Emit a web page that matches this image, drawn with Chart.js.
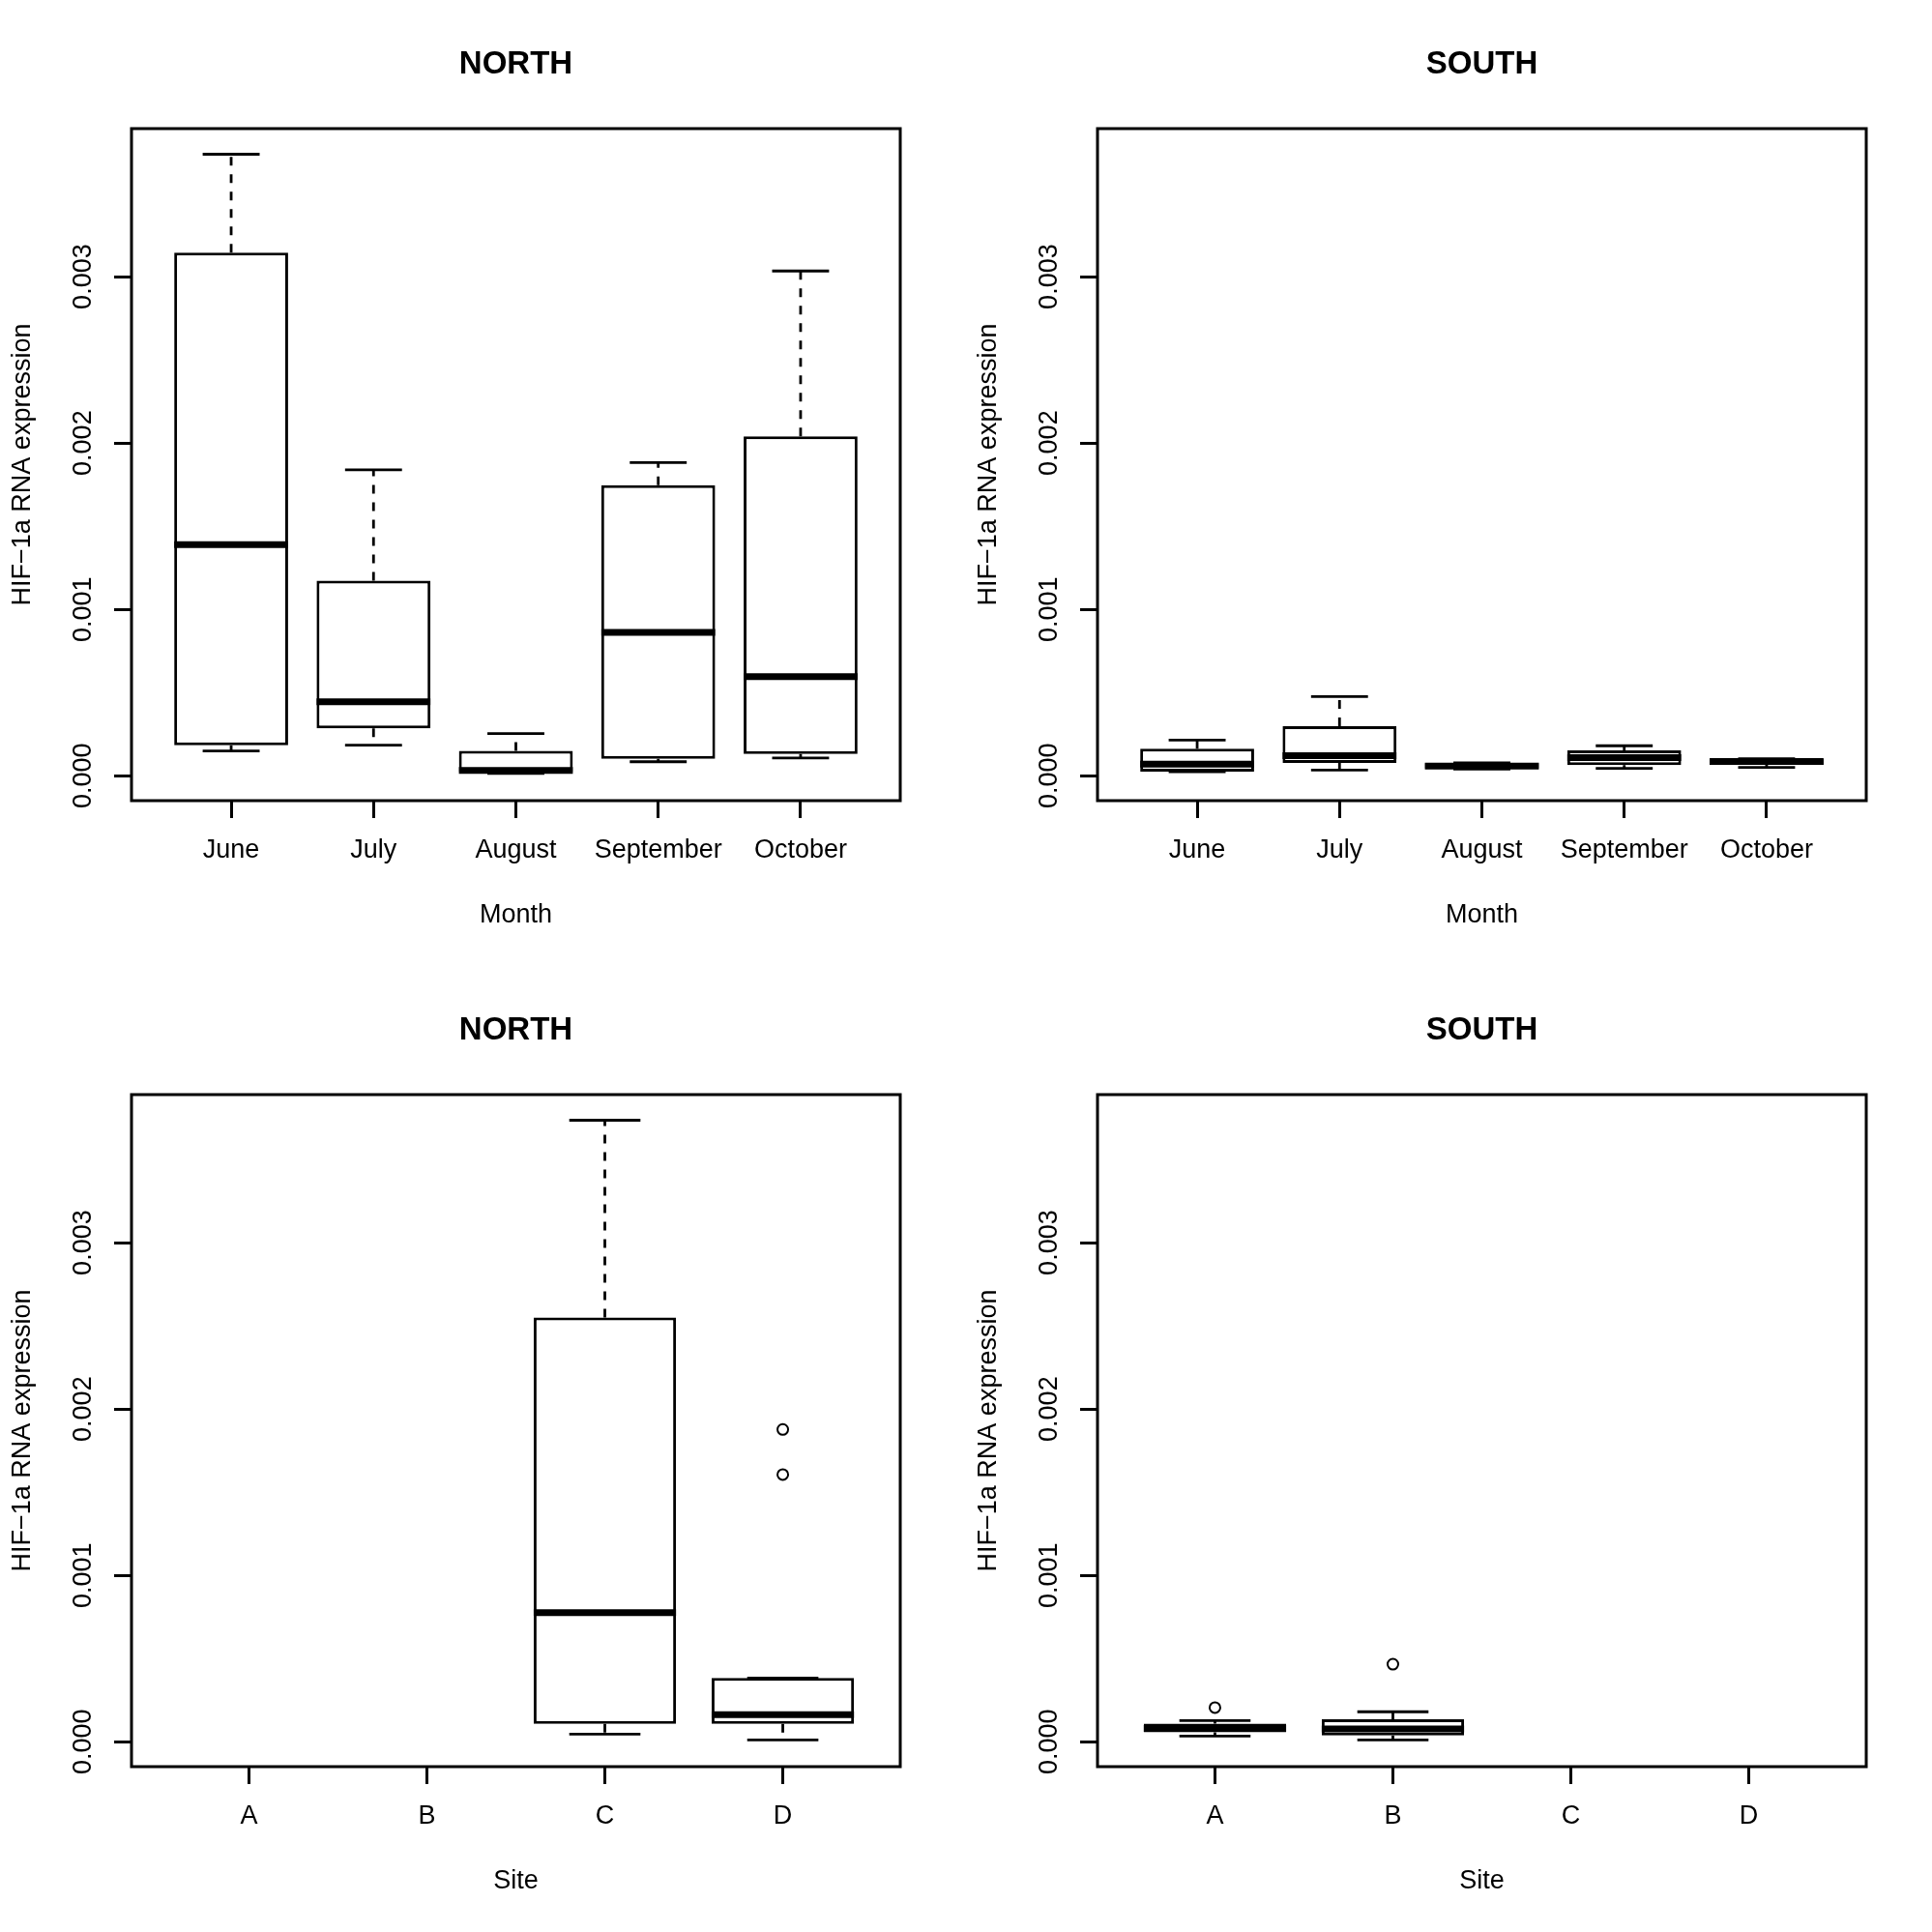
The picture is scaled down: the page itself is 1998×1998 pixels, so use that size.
<!DOCTYPE html>
<html>
<head>
<meta charset="utf-8">
<script src="https://cdn.jsdelivr.net/npm/chart.js@4.4.0/dist/chart.umd.min.js"></script>
<style>
    body { margin: 0; background: #ffffff; }
    #grid { position: relative; width: 1998px; height: 1998px; background: #ffffff; }
    .panel { position: absolute; width: 999px; height: 999px; }
</style>
</head>
<body>
<div id="grid">
    <div class="panel" style="left:0px;top:0px"><canvas id="northMonth" width="999" height="999"></canvas></div>
    <div class="panel" style="left:999px;top:0px"><canvas id="southMonth" width="999" height="999"></canvas></div>
    <div class="panel" style="left:0px;top:999px"><canvas id="northSite" width="999" height="999"></canvas></div>
    <div class="panel" style="left:999px;top:999px"><canvas id="southSite" width="999" height="999"></canvas></div>
</div>
<script>
// Categories and tick labels.
var months = ["June", "July", "August", "September", "October"];
var sites = ["A", "B", "C", "D"];
var yTicks = [0, 0.001, 0.002, 0.003];
var yTitle = "HIF\u22121a RNA expression";

// NORTH by month: whisker ends, quartiles and median.
var northMonthLow = [0.000149, 0.000183, 0.000014, 0.000084, 0.000107];
var northMonthQ1 = [0.000183, 0.000285, 0.000023, 0.000102, 0.000130];
var northMonthMed = [0.001389, 0.000445, 0.000031, 0.000862, 0.000595];
var northMonthQ3 = [0.003144, 0.001172, 0.000149, 0.001746, 0.002040];
var northMonthHigh = [0.003736, 0.001839, 0.000253, 0.001882, 0.003034];
var northMonthOut = [[], [], [], [], []];

// SOUTH by month.
var southMonthLow = [0.000024, 0.000034, 0.000040, 0.000044, 0.000050];
var southMonthQ1 = [0.000024, 0.000077, 0.000043, 0.000063, 0.000065];
var southMonthMed = [0.000069, 0.000121, 0.000058, 0.000108, 0.000085];
var southMonthQ3 = [0.000162, 0.000298, 0.000075, 0.000152, 0.000102];
var southMonthHigh = [0.000214, 0.000476, 0.000078, 0.000180, 0.000102];
var southMonthOut = [[], [], [], [], []];

// NORTH by site (no data for A and B).
var northSiteLow = [null, null, 0.000045, 0.000011];
var northSiteQ1 = [null, null, 0.000107, 0.000107];
var northSiteMed = [null, null, 0.000775, 0.000163];
var northSiteQ3 = [null, null, 0.002550, 0.000383];
var northSiteHigh = [null, null, 0.003736, 0.000383];
var northSiteOut = [[], [], [], [0.001877, 0.001606]];

// SOUTH by site (no data for C and D).
var southSiteLow = [0.000034, 0.000011, null, null];
var southSiteQ1 = [0.000056, 0.000038, null, null];
var southSiteMed = [0.000080, 0.000077, null, null];
var southSiteQ3 = [0.000108, 0.000135, null, null];
var southSiteHigh = [0.000127, 0.000180, null, null];
var southSiteOut = [[0.000205], [0.000466], [], []];

var fontFamily = "'Liberation Sans', Arial, Helvetica, sans-serif";
var yMin = -0.00015;
var yMax = 0.00389;

function makeBoxPlugin(title, low, med, high, q1, q3) {
    // Whiskers, staples, medians, plot frame and panel title.
    return {
        id: "boxExtras",
        afterDatasetsDraw: function (chart) {
            var ctx = chart.ctx;
            var xScale = chart.scales.x;
            var yScale = chart.scales.y;
            var halfCap = xScale.getPixelForValue(1.2) - xScale.getPixelForValue(1);
            var halfBox = xScale.getPixelForValue(1.4) - xScale.getPixelForValue(1);
            ctx.save();
            ctx.strokeStyle = "#000000";
            ctx.lineCap = "butt";
            for (var i = 0; i < med.length; i++) {
                if (med[i] === null) {
                    continue;
                }
                var x = xScale.getPixelForValue(i + 1);
                // Dashed whiskers.
                ctx.lineWidth = 2.8;
                ctx.setLineDash([9, 9]);
                ctx.beginPath();
                ctx.moveTo(x, yScale.getPixelForValue(q3[i]));
                ctx.lineTo(x, yScale.getPixelForValue(high[i]));
                ctx.moveTo(x, yScale.getPixelForValue(q1[i]));
                ctx.lineTo(x, yScale.getPixelForValue(low[i]));
                ctx.stroke();
                // Staples.
                ctx.setLineDash([]);
                ctx.beginPath();
                ctx.moveTo(x - halfCap, yScale.getPixelForValue(high[i]));
                ctx.lineTo(x + halfCap, yScale.getPixelForValue(high[i]));
                ctx.moveTo(x - halfCap, yScale.getPixelForValue(low[i]));
                ctx.lineTo(x + halfCap, yScale.getPixelForValue(low[i]));
                ctx.stroke();
                // Median.
                ctx.lineWidth = 7;
                ctx.beginPath();
                ctx.moveTo(x - halfBox, yScale.getPixelForValue(med[i]));
                ctx.lineTo(x + halfBox, yScale.getPixelForValue(med[i]));
                ctx.stroke();
            }
            ctx.restore();
        },
        afterDraw: function (chart) {
            var ctx = chart.ctx;
            var area = chart.chartArea;
            ctx.save();
            ctx.strokeStyle = "#000000";
            ctx.lineWidth = 3;
            ctx.strokeRect(area.left, area.top, area.right - area.left, area.bottom - area.top);
            ctx.fillStyle = "#000000";
            ctx.font = "bold 33px " + fontFamily;
            ctx.textAlign = "center";
            ctx.textBaseline = "middle";
            ctx.fillText(title, (area.left + area.right) / 2, 67);
            ctx.restore();
        }
    };
}

function drawPanel(canvasId, title, categories, xTitle, low, q1, med, q3, high, outliers) {
    var positions = [];
    var boxes = [];
    var points = [];
    for (var i = 0; i < categories.length; i++) {
        positions.push(i + 1);
        if (med[i] !== null) {
            boxes.push({ x: i + 1, y: [q1[i], q3[i]] });
        }
        for (var k = 0; k < outliers[i].length; k++) {
            points.push({ x: i + 1, y: outliers[i][k] });
        }
    }
    // R style x range: half a unit each side, plus 4%.
    var pad = 0.5 + categories.length * 0.04;
    var axisFont = { family: fontFamily, size: 27 };

    new Chart(document.getElementById(canvasId), {
        type: "bar",
        data: {
            datasets: [
                {
                    data: boxes,
                    backgroundColor: "#ffffff",
                    borderColor: "#000000",
                    borderWidth: 3,
                    borderSkipped: false,
                    barPercentage: 0.8,
                    categoryPercentage: 1.0,
                    order: 2
                },
                {
                    type: "scatter",
                    data: points,
                    pointRadius: 5.5,
                    pointBorderWidth: 2,
                    pointBackgroundColor: "rgba(0,0,0,0)",
                    pointBorderColor: "#000000",
                    order: 1
                }
            ]
        },
        options: {
            responsive: false,
            devicePixelRatio: 1,
            animation: false,
            events: [],
            layout: { padding: { top: 133, right: 68, bottom: 0, left: 0 } },
            plugins: {
                legend: { display: false },
                tooltip: { enabled: false },
                title: { display: false }
            },
            scales: {
                x: {
                    type: "linear",
                    offset: false,
                    min: 1 - pad,
                    max: categories.length + pad,
                    afterBuildTicks: function (scale) {
                        scale.ticks = positions.map(function (v) { return { value: v }; });
                    },
                    afterFit: function (scale) { scale.height = 171; },
                    grid: { display: true, offset: false, drawOnChartArea: false, drawTicks: true, tickLength: 18, lineWidth: 3, color: "#000000" },
                    border: { display: false },
                    ticks: {
                        autoSkip: false,
                        maxRotation: 0,
                        padding: 17,
                        color: "#000000",
                        font: axisFont,
                        callback: function (value) { return categories[Math.round(value) - 1]; }
                    },
                    title: { display: true, text: xTitle, color: "#000000", font: axisFont, padding: { top: 0, bottom: 36 } }
                },
                y: {
                    type: "linear",
                    min: yMin,
                    max: yMax,
                    afterBuildTicks: function (scale) {
                        scale.ticks = yTicks.map(function (v) { return { value: v }; });
                    },
                    afterFit: function (scale) { scale.width = 136; },
                    grid: { display: true, drawOnChartArea: false, drawTicks: true, tickLength: 18, lineWidth: 3, color: "#000000" },
                    border: { display: false },
                    ticks: {
                        minRotation: 90,
                        maxRotation: 90,
                        crossAlign: "center",
                        padding: -2,
                        color: "#000000",
                        font: axisFont,
                        callback: function (value) { return value.toFixed(3); }
                    },
                    title: { display: true, text: yTitle, color: "#000000", font: axisFont, padding: { top: 7, bottom: 0 } }
                }
            }
        },
        plugins: [makeBoxPlugin(title, low, med, high, q1, q3)]
    });
}

drawPanel("northMonth", "NORTH", months, "Month", northMonthLow, northMonthQ1, northMonthMed, northMonthQ3, northMonthHigh, northMonthOut);
drawPanel("southMonth", "SOUTH", months, "Month", southMonthLow, southMonthQ1, southMonthMed, southMonthQ3, southMonthHigh, southMonthOut);
drawPanel("northSite", "NORTH", sites, "Site", northSiteLow, northSiteQ1, northSiteMed, northSiteQ3, northSiteHigh, northSiteOut);
drawPanel("southSite", "SOUTH", sites, "Site", southSiteLow, southSiteQ1, southSiteMed, southSiteQ3, southSiteHigh, southSiteOut);
</script>
</body>
</html>
